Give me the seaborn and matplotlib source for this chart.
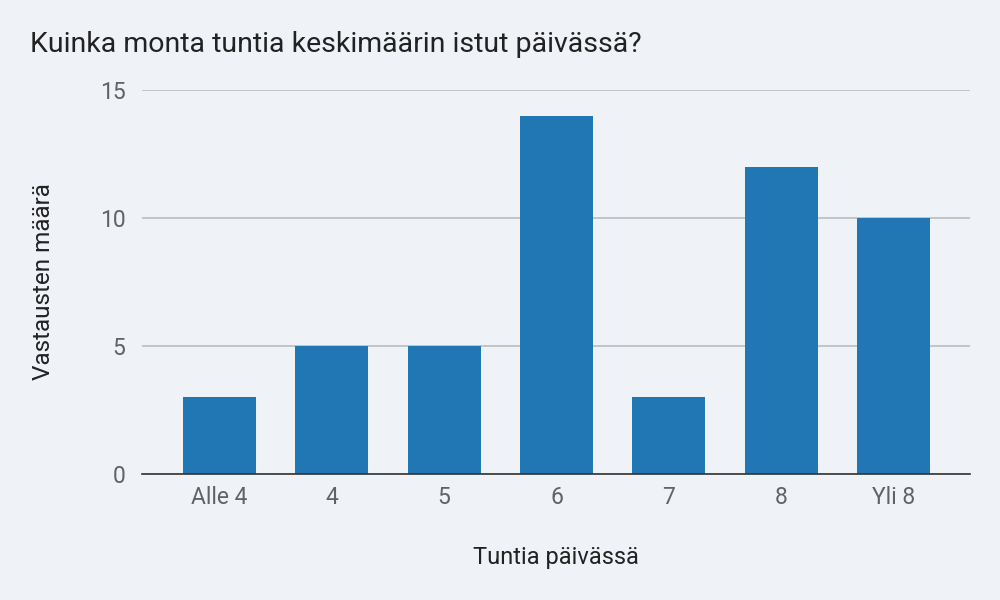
import matplotlib
matplotlib.use("Agg")
import matplotlib.pyplot as plt
import pandas as pd
import seaborn as sns

# data
categories = ["Alle 4", "4", "5", "6", "7", "8", "Yli 8"]
counts = [3, 5, 5, 14, 3, 12, 10]

bg = "#eff2f7"
bar_color = "#2077b4"
text_grey = "#5f6368"

sns.set_theme(style="white")
plt.rcParams['font.family'] = ['Roboto', 'DejaVu Sans']

df = pd.DataFrame({'tunnit': categories, 'maara': counts})

fig = plt.figure(figsize=(10, 6), dpi=100, facecolor=bg)
ax = fig.add_axes([0.142, 0.21, 0.828, 0.64])
ax.set_facecolor(bg)

sns.barplot(data=df, x='tunnit', y='maara', color=bar_color, width=0.65,
            saturation=1, edgecolor='none', linewidth=0, ax=ax, zorder=3)

ax.set_ylim(0, 15)
ax.set_yticks([0, 5, 10, 15])
ax.set_xlim(-0.69, len(categories) - 0.32)
ax.grid(axis='y', color='#b9bcc1', linewidth=1.2, zorder=0)
for s in ['top', 'right', 'left']:
    ax.spines[s].set_visible(False)
ax.spines['bottom'].set_color('#333333')
ax.spines['bottom'].set_linewidth(1.2)
ax.spines['bottom'].set_zorder(4)
ax.tick_params(axis='both', length=0, labelsize=16.5, labelcolor=text_grey)
ax.tick_params(axis='x', pad=9)
ax.tick_params(axis='y', pad=12)

ax.set_xlabel("Tuntia päivässä", fontsize=17, color='#222222', labelpad=26)
ax.set_ylabel("Vastausten määrä", fontsize=17.5, color='#222222', labelpad=32)

fig.text(0.03, 0.925, "Kuinka monta tuntia keskimäärin istut päivässä?",
         fontsize=20.5, color='#222222', ha='left', va='center')

fig.savefig("out.png", dpi=100, facecolor=bg)
